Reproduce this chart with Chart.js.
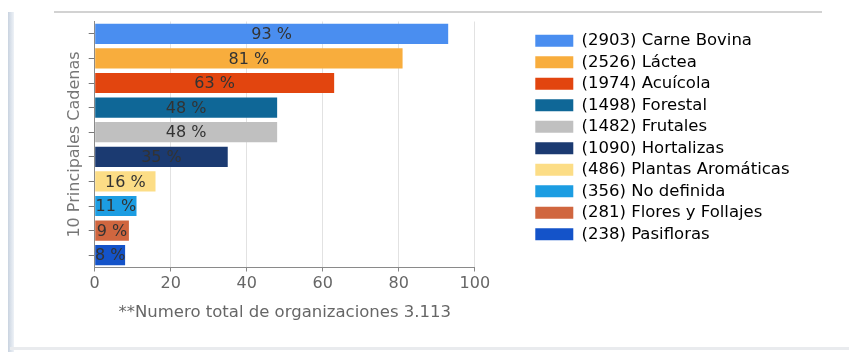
<!DOCTYPE html>
<html>
<head>
<meta charset="utf-8">
<script src="https://cdn.jsdelivr.net/npm/chart.js@4"></script>
<style>
  html, body { margin: 0; padding: 0; background: #fff; }
  #wrap { position: relative; width: 849px; height: 352px; overflow: hidden; }
  /* marco del panel */
  .edge-left { position: absolute; left: 8px; top: 12px; width: 6px; height: 340px;
    background: linear-gradient(to right, #c9d3e0, #eef2f7); }
  .edge-top { position: absolute; left: 54px; top: 11px; width: 768px; height: 2px;
    background: #d2d2d2; }
  .edge-bottom { position: absolute; left: 10px; top: 347px; width: 839px; height: 3px;
    background: #e9ebee; }
  canvas { position: absolute; left: 0; top: 0; }
</style>
</head>
<body>
<div id="wrap">
  <div class="edge-left"></div>
  <div class="edge-top"></div>
  <div class="edge-bottom"></div>
  <canvas id="cadenasChart" width="849" height="352"></canvas>
</div>
<script>
// Cadenas productivas: nombre, numero de organizaciones y porcentaje
const cadenas = ["Carne Bovina", "Láctea", "Acuícola", "Forestal", "Frutales",
  "Hortalizas", "Plantas Aromáticas", "No definida", "Flores y Follajes", "Pasifloras"];
const organizaciones = [2903, 2526, 1974, 1498, 1482, 1090, 486, 356, 281, 238];
const porcentajes = [93, 81, 63, 48, 48, 35, 16, 11, 9, 8];
const colores = ["#4a8ef0", "#f8ad3d", "#e2450f", "#0f6797", "#c0c0c0",
  "#1b3a71", "#fcdd86", "#1c9de2", "#d0663f", "#1453c9"];
const ticksX = [0, 20, 40, 60, 80, 100];

const FONT = "'DejaVu Sans', sans-serif";

// texto "NN %" centrado dentro de cada barra
const etiquetasBarras = {
  id: "etiquetasBarras",
  afterDatasetsDraw(chart) {
    const ctx = chart.ctx;
    ctx.save();
    ctx.font = "16px " + FONT;
    ctx.fillStyle = "#333";
    ctx.textAlign = "center";
    ctx.textBaseline = "middle";
    chart.getDatasetMeta(0).data.forEach((bar, i) => {
      const cx = (bar.x + bar.base) / 2;
      ctx.fillText(porcentajes[i] + " %", cx, bar.y + 1);
    });
    ctx.restore();
  },
};

// separa la leyenda del area del grafico
const moverLeyenda = {
  id: "moverLeyenda",
  afterLayout(chart) {
    const lg = chart.legend;
    const dx = chart.chartArea.right + 55.5 - lg.left;
    lg.left += dx; lg.right += dx;
    lg.top += 6; lg.bottom += 6;
  },
};

const ctx = document.getElementById("cadenasChart").getContext("2d");

new Chart(ctx, {
  type: "bar",
  data: {
    labels: cadenas.map((c, i) => "(" + organizaciones[i] + ") " + c),
    datasets: [{
      data: porcentajes,
      backgroundColor: colores,
      borderWidth: 0,
      barPercentage: 0.82,
      categoryPercentage: 1,
    }],
  },
  options: {
    indexAxis: "y",
    responsive: false,
    animation: false,
    layout: { padding: { left: 61, top: 21.5, right: 105, bottom: 25 } },
    plugins: {
      tooltip: { enabled: false },
      legend: {
        position: "right",
        align: "start",
        maxWidth: 420,
        labels: {
          boxWidth: 38,
          boxHeight: 12,
          padding: 5,
          color: "#444",
          font: { family: FONT, size: 16.5 },
          generateLabels(chart) {
            return chart.data.labels.map((text, i) => ({
              text,
              fillStyle: colores[i],
              strokeStyle: colores[i],
              lineWidth: 0,
              index: i,
            }));
          },
        },
      },
    },
    scales: {
      x: {
        min: 0,
        max: 100,
        afterBuildTicks(scale) {
          scale.ticks = ticksX.map((v) => ({ value: v }));
        },
        afterFit(scale) { scale.height = 59.5; },
        grid: { color: "#e2e2e2", tickLength: 4, tickColor: "#888" },
        border: { color: "#8a8a8a" },
        ticks: { color: "#666", padding: 3, font: { family: FONT, size: 16 } },
        title: {
          display: true,
          text: "**Numero total de organizaciones 3.113",
          color: "#666",
          font: { family: FONT, size: 16.5 },
        },
      },
      y: {
        afterFit(scale) { scale.width = 33.7; },
        grid: { display: true, drawOnChartArea: false, offset: false, tickLength: 6, tickColor: "#777" },
        border: { color: "#8a8a8a" },
        ticks: { display: false },
        title: {
          display: true,
          text: "10 Principales Cadenas",
          color: "#777",
          font: { family: FONT, size: 16 },
        },
      },
    },
  },
  plugins: [etiquetasBarras, moverLeyenda],
});
</script>
</body>
</html>
